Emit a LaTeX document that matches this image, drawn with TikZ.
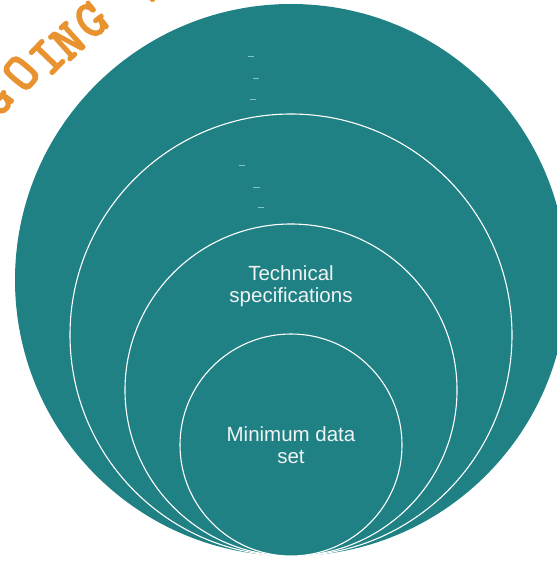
\documentclass[tikz,border=0pt]{standalone}
\usepackage{fontspec}
\setmainfont{Liberation Sans}
\newfontfamily\courb{Latin Modern Mono}[FakeBold=4]
\definecolor{teal1}{RGB}{31,129,132}
\definecolor{orng}{RGB}{232,146,48}
\definecolor{txt}{RGB}{240,244,244}
\definecolor{dashc}{RGB}{130,195,198}
\begin{document}
\begin{tikzpicture}[x=1pt,y=-1pt,
  ring/.style={circle, fill=teal1, draw=white, line width=1.1pt, inner sep=0pt, outer sep=0pt},
  lbl/.style={text=txt, font=\fontsize{20.5}{22}\selectfont, align=center},
  arcl/.style={text=orng, font=\courb\fontsize{52}{52}\selectfont, inner sep=0pt},
  tick/.style={draw=dashc, line width=0.9pt}]
\useasboundingbox (0,0) rectangle (557,561);
\begin{scope}
\clip (0,0) rectangle (557,561);
\node[ring, draw=none, minimum size=552pt] (c1) at (291,280) {};
\node[ring, minimum size=442pt] (c2) at (291,335) {};
\node[ring, minimum size=332pt] (c3) at (291,390) {};
\node[ring, minimum size=222pt] (c4) at (291,445) {};
\node[lbl] (t1) at (291,286) {Technical\\specifications};
\node[lbl] (t2) at (291,445) {Minimum data\\set};
\draw[tick] (247.5,56.7) -- ++(6.5,0);
\draw[tick] (252.5,78.3) -- ++(6.5,0);
\draw[tick] (249.5,99.0) -- ++(6.5,0);
\draw[tick] (238.5,165.3) -- ++(6.5,0);
\draw[tick] (253.0,187.3) -- ++(6.5,0);
\draw[tick] (257.5,207.3) -- ++(6.5,0);
\node[arcl, rotate=54] (l1) at (-5,99) {G};
\node[arcl, rotate=50] (l2) at (21,73) {O};
\node[arcl, rotate=46] (l3) at (47,57) {I};
\node[arcl, rotate=42] (l4) at (68,41) {N};
\node[arcl, rotate=38] (l5) at (91,20) {G};
\node[arcl, rotate=30] (l6) at (150,-16) {W};
\end{scope}
\end{tikzpicture}
\end{document}
